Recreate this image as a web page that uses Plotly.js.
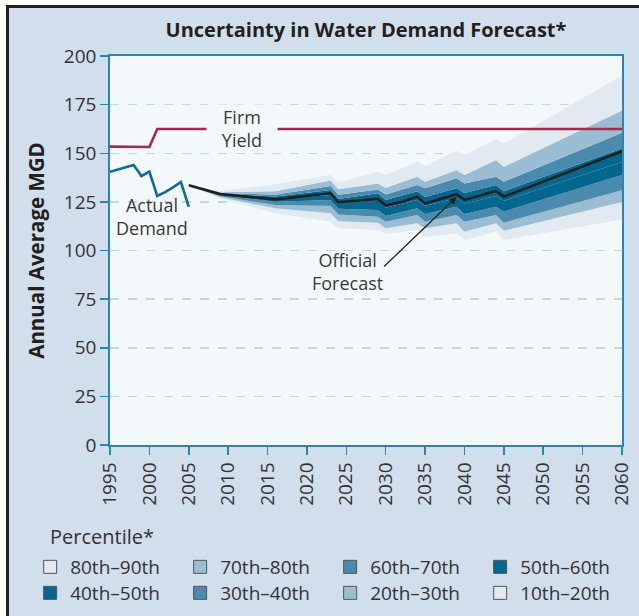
<!DOCTYPE html>
<html><head><meta charset="utf-8">
<script src="https://cdn.plot.ly/plotly-3.0.1.min.js"></script>
<style>
html,body{margin:0;padding:0;background:#fff;}
#wrap{position:absolute;left:6px;top:5px;border-left:3px solid #231f20;border-top:3px solid #231f20;width:630px;height:608px;}
#chart{width:630px;height:608px;}
</style></head><body>
<div id="wrap"><div id="chart"></div></div>
<script>
// ---- data ----
const actualYears = [1995, 1996, 1997, 1998, 1999, 2000, 2001, 2002, 2003, 2004, 2005];
const actualDemand = [140.5, 141.7, 142.8, 144.0, 138.3, 140.5, 128.0, 130.0, 132.5, 135.2, 122.5];

const firmYears = [1995, 2000, 2001, 2060];
const firmYield = [153.4, 153.2, 162.5, 162.5];

const forecastYears = [2005, 2009, 2016, 2023, 2024, 2029, 2030, 2032, 2034, 2035, 2039, 2040, 2044, 2045, 2060];
const officialForecast = [133.5, 129.0, 126.3, 129.4, 124.8, 126.5, 123.1, 125.0, 127.7, 124.2, 128.9, 126.0, 130.6, 127.7, 151.0];

const bandYears = [2005, 2009, 2016, 2023, 2024, 2029, 2030, 2034, 2035, 2039, 2040, 2044, 2045, 2060];
const p90 = [133.5, 130.5, 134.0, 138.8, 135.0, 140.5, 138.8, 145.7, 143.4, 151.3, 149.1, 157.2, 155.0, 190.0];
const p80 = [133.5, 130.0, 130.5, 136.0, 131.5, 134.5, 132.2, 137.9, 135.4, 141.4, 138.8, 146.5, 143.1, 172.0];
const p70 = [133.5, 129.6, 128.7, 133.2, 128.7, 131.4, 128.8, 133.7, 132.0, 137.1, 134.5, 137.9, 135.4, 160.5];
const p60 = [133.5, 129.2, 127.7, 131.1, 126.5, 129.4, 126.0, 130.5, 127.5, 132.0, 129.5, 133.7, 130.5, 152.5];
const p50 = [133.5, 128.8, 126.3, 128.5, 124.3, 126.0, 122.0, 126.0, 123.0, 127.0, 124.0, 128.0, 125.5, 145.5];
const p40 = [133.5, 128.4, 125.1, 126.0, 121.5, 120.8, 117.8, 121.7, 118.8, 122.5, 118.8, 122.5, 120.0, 138.8];
const p30 = [133.5, 127.9, 123.4, 122.9, 118.5, 117.4, 114.8, 118.3, 114.8, 118.3, 114.8, 118.3, 114.3, 131.0];
const p20 = [133.5, 127.4, 121.7, 119.1, 115.0, 114.3, 111.5, 114.0, 111.4, 114.0, 109.7, 114.0, 110.2, 125.0];
const p10 = [133.5, 126.8, 119.1, 114.8, 111.5, 110.5, 108.5, 110.5, 107.1, 108.8, 105.4, 109.7, 105.4, 116.0];

const bandNames = ['10th\u201320th', '20th\u201330th', '30th\u201340th', '40th\u201350th', '50th\u201360th', '60th\u201370th', '70th\u201380th', '80th\u201390th'];
const xTicks = [1995, 2000, 2005, 2010, 2015, 2020, 2025, 2030, 2035, 2040, 2045, 2050, 2055, 2060];
const yTicks = [0, 25, 50, 75, 100, 125, 150, 175, 200];

// ---- styles ----
const C_LIGHT = '#e1eaf0', C_MID = '#9bbdd4', C_MED = '#4a8aad', C_DARK = '#02678f';
const bandColors = [C_LIGHT, C_MID, C_MED, C_DARK, C_DARK, C_MED, C_MID, C_LIGHT];
const edges = [p10, p20, p30, p40, p50, p60, p70, p80, p90];
const FONT = '"Open Sans", "Noto Sans", sans-serif';
const TXT = '#333333';
const AXC = '#2b86ad';

const traces = [];
traces.push({x: bandYears, y: edges[0], mode: 'lines', line: {width: 0}, showlegend: false, hoverinfo: 'skip'});
for (let i = 1; i < edges.length; i++) {
  traces.push({x: bandYears, y: edges[i], mode: 'lines', line: {width: 0}, fill: 'tonexty',
    fillcolor: bandColors[i - 1], name: bandNames[i - 1], showlegend: false, hoverinfo: 'skip'});
}
traces.push({x: firmYears, y: firmYield, mode: 'lines', line: {color: '#a5284d', width: 2.6}, showlegend: false, name: 'Firm Yield'});
traces.push({x: actualYears, y: actualDemand, mode: 'lines', line: {color: '#0f6c93', width: 2.6}, showlegend: false, name: 'Actual Demand'});
traces.push({x: forecastYears, y: officialForecast, mode: 'lines', line: {color: '#231f20', width: 2.6}, showlegend: false, name: 'Official Forecast'});

// legend entries (row 1: high percentiles, row 2: low percentiles)
const row1 = [7, 6, 5, 4], row2 = [3, 2, 1, 0];
row1.forEach(i => traces.push({x: [null], y: [null], mode: 'markers', name: bandNames[i], legend: 'legend',
  marker: {symbol: 'square', size: 13, color: bandColors[i], line: {color: '#555', width: 1}}}));
row2.forEach(i => traces.push({x: [null], y: [null], mode: 'markers', name: bandNames[i], legend: 'legend2',
  marker: {symbol: 'square', size: 13, color: bandColors[i], line: {color: '#555', width: 1}}}));

const legendCommon = {orientation: 'h', xanchor: 'left', yanchor: 'middle', x: -0.156,
  entrywidth: 105, entrywidthmode: 'pixels', itemwidth: 30, bgcolor: 'rgba(0,0,0,0)',
  font: {family: FONT, size: 19, color: TXT}, traceorder: 'normal', itemclick: false};

const layout = {
  width: 630, height: 608,
  margin: {l: 101, r: 17, t: 48, b: 171, autoexpand: false},
  paper_bgcolor: '#d0dfeb',
  plot_bgcolor: '#f3f8fb',
  font: {family: FONT, size: 18, color: TXT},
  title: {text: '<b>Uncertainty in Water Demand Forecast*</b>', font: {family: FONT, size: 20, color: '#231f20'},
    x: 0.5, xref: 'paper', y: 0.963, yref: 'container', yanchor: 'middle'},
  xaxis: {range: [1995, 2060], tickvals: xTicks, ticktext: xTicks.map(String), tickangle: -90,
    ticks: 'outside', ticklen: 8, tickwidth: 1.5, tickcolor: AXC,
    showline: true, linecolor: AXC, linewidth: 1.8, mirror: true, showgrid: false, zeroline: false,
    tickfont: {family: FONT, size: 19, color: TXT}},
  yaxis: {range: [0, 200], tickvals: yTicks, ticktext: yTicks.map(String),
    ticks: 'outside', ticklen: 8, tickwidth: 1.5, tickcolor: AXC,
    showline: true, linecolor: AXC, linewidth: 1.8, mirror: true,
    showgrid: true, gridcolor: '#c3d7e5', griddash: 'dash', gridwidth: 1.5, zeroline: false,
    tickfont: {family: FONT, size: 19, color: TXT},
    title: {text: '<b>Annual Average MGD</b>', font: {family: FONT, size: 20.5, color: '#231f20'}, standoff: 14}},
  legend: Object.assign({}, legendCommon, {y: -0.3136}),
  legend2: Object.assign({}, legendCommon, {y: -0.3805}),
  annotations: [
    {x: 2011.7, y: 162.5, xref: 'x', yref: 'y', text: 'Firm<br>Yield', showarrow: false, width: 70,
      bgcolor: '#f3f8fb', borderpad: 0, font: {family: FONT, size: 18, color: '#3a3a3a'}},
    {x: 2000.3, y: 117.7, xref: 'x', yref: 'y', text: 'Actual<br>Demand', showarrow: false,
      font: {family: FONT, size: 18, color: '#3a3a3a'}},
    {x: 2025.2, y: 89, xref: 'x', yref: 'y', text: 'Official<br>Forecast', showarrow: false,
      font: {family: FONT, size: 18, color: '#3a3a3a'}},
    {x: 2039.0, y: 127.5, xref: 'x', yref: 'y', ax: 2029.6, ay: 91, axref: 'x', ayref: 'y', text: '',
      showarrow: true, arrowhead: 2, arrowsize: 1.1, arrowwidth: 1.3, arrowcolor: '#231f20', standoff: 0},
    {x: -0.121, y: -0.2365, xref: 'paper', yref: 'paper', xanchor: 'left', yanchor: 'middle',
      text: 'Percentile*', showarrow: false, font: {family: FONT, size: 20, color: TXT}}
  ]
};

Plotly.newPlot('chart', traces, layout, {displayModeBar: false, staticPlot: true});
</script></body></html>
